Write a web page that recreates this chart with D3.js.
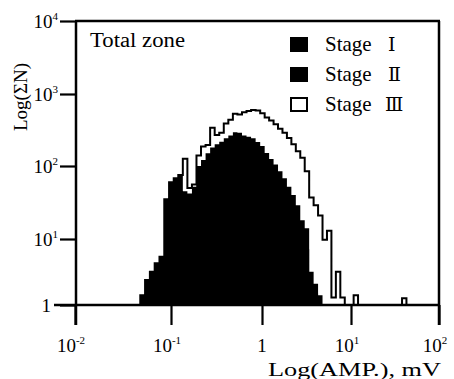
<!DOCTYPE html>
<html><head><meta charset="utf-8">
<script src="https://cdn.jsdelivr.net/npm/d3@7"></script>
<style>
body{margin:0;background:#fff}
svg text{font-family:"Liberation Serif","Times New Roman",serif;fill:#000}
</style>
</head><body>
<svg id="chart" width="454" height="379"></svg>
<script>
// bin edges, log10(mV)
const binEdgesLog = [-1.32,-1.27,-1.22,-1.17,-1.12,-1.07,-1.02,-0.97,-0.92,-0.87,-0.82,-0.77,-0.72,-0.67,-0.62,-0.57,-0.52,-0.47,-0.42,-0.37,-0.32,-0.27,-0.22,-0.17,-0.12,-0.07,-0.02,0.03,0.08,0.13,0.18,0.23,0.28,0.33,0.38,0.43,0.48,0.53,0.58,0.63,0.68,0.73,0.78,0.83,0.88,0.93,0.98,1.03,1.08,1.13,1.18,1.23,1.28,1.33,1.38,1.43,1.48,1.53,1.58,1.63];
// cumulative counts per bin
const stageI = [1,1.5,2,3,3.5,20,35,40,45,28,26,32,60,75,90,105,118,130,140,155,170,165,150,140,130,115,100,80,65,55,45,35,27,20,15,10,7,2,1.5,1];
const stageII = [1.4,2.4,3.2,4.3,5.4,35,60,68,75,45,42,52,100,121,150,180,200,218,242,265,295,290,265,255,242,215,190,151,125,105,85,68,52,40,29,18,14,3.2,2.1,1.4];
const stageIII = [1.4,2.4,3.2,4.3,5.4,35,60,68,75,126,50,56,140,186,195,340,270,290,390,440,530,520,560,580,600,590,540,470,430,380,330,290,245,200,160,130,85,37,29,21,9.7,13,1.3,3.2,1.3,1,1,1.4,1,1,1,1,1,1,1,1,1,1,1.27];
const xTicks = [0.01,0.1,1,10,100];
const xTickLabels = [["10","-2"],["10","-1"],["1",""],["10","1"],["10","2"]];
const yTicks = [1,10,100,1000,10000];
const yTickLabels = [["1",""],["10","1"],["10","2"],["10","3"],["10","4"]];
const legendNames = ["Stage","Stage","Stage"];
const legendNumerals = ["\u2160","\u2161","\u2162"];

const SERIF = "'Liberation Serif','Times New Roman',serif";
const svg = d3.select("#chart");
const x = d3.scaleLog().domain(xTicks).range([75,171,262,351,439]);
const y = d3.scaleLog().domain(yTicks).range([305,239,166,94,21]);

function pts(vals){
  const p = vals.map((v,i)=>[Math.pow(10,binEdgesLog[i]), v]);
  p.push([Math.pow(10,binEdgesLog[vals.length]), vals[vals.length-1]]);
  return p;
}
const area = d3.area().curve(d3.curveStepAfter).x(d=>x(d[0])).y0(y(1)).y1(d=>y(d[1]));
const line = d3.line().curve(d3.curveStepAfter).x(d=>x(d[0])).y(d=>y(d[1]));

// Stage III (open)
const p3 = pts(stageIII);
svg.append("path").attr("d", area(p3)).attr("fill","#fff");
const p3l = [[p3[0][0],1], ...p3, [p3[p3.length-1][0],1]];
svg.append("path").attr("d", line(p3l)).attr("fill","none").attr("stroke","#000").attr("stroke-width",2);
// Stage II, Stage I (black)
svg.append("path").attr("d", area(pts(stageII))).attr("fill","#000");
svg.append("path").attr("d", area(pts(stageI))).attr("fill","#000");

// axes
const gy = svg.append("g").attr("transform","translate(76,0)")
  .call(d3.axisLeft(y).tickValues(yTicks).tickSize(16).tickSizeOuter(0).tickFormat(""));
const gx = svg.append("g").attr("transform","translate(0,305)")
  .call(d3.axisBottom(x).tickValues(xTicks).tickSize(20).tickSizeOuter(0).tickFormat(""));
[gy,gx].forEach(g=>{g.selectAll("line").attr("stroke","#000").attr("stroke-width",2.2);
  g.select(".domain").attr("stroke","#000").attr("stroke-width",2.5);});
gy.select(".domain").attr("d","M0,"+y(10000)+"V"+(y(1)+20));
gx.select(".domain").attr("d","M"+(x(0.01)-21)+",0H"+x(100));
// top and right frame
svg.append("line").attr("x1",x(0.01)).attr("x2",x(100)+1).attr("y1",y(10000)).attr("y2",y(10000)).attr("stroke","#000").attr("stroke-width",2.5);
svg.append("line").attr("x1",x(100)).attr("x2",x(100)).attr("y1",y(10000)).attr("y2",y(1)+20).attr("stroke","#000").attr("stroke-width",2.5);

function txt(){ return svg.append("text").attr("font-family",SERIF).attr("fill","#000"); }

// y tick labels
yTicks.forEach((t,i)=>{
  const lab = yTickLabels[i];
  const tx = txt().attr("x", lab[1]?58:51).attr("y", y(t)+7).attr("text-anchor","end").attr("font-size",19);
  tx.append("tspan").text(lab[0]);
  if(lab[1]) tx.append("tspan").attr("dy",-8).attr("font-size",11).text(lab[1]);
});
// x tick labels
xTicks.forEach((t,i)=>{
  const lab = xTickLabels[i];
  const tx = txt().attr("x", x(t)-(lab[1]?4:0)).attr("y", 352).attr("text-anchor","middle").attr("font-size",19);
  tx.append("tspan").text(lab[0]);
  if(lab[1]) tx.append("tspan").attr("dy",-8).attr("font-size",11).text(lab[1]);
});
// axis titles
txt().attr("x",268).attr("y",376).attr("textLength",173).attr("lengthAdjust","spacingAndGlyphs")
  .attr("font-size",19).text("Log(AMP.), mV");
txt().attr("transform","translate(27,97) rotate(-90)").attr("text-anchor","middle")
  .attr("font-size",19).text("Log(\u03A3N)");
// annotation
txt().attr("x",90).attr("y",47).attr("textLength",95).attr("lengthAdjust","spacingAndGlyphs")
  .attr("font-size",20).text("Total zone");

// legend
const legY = [37,67,97];
legendNames.forEach((n,i)=>{
  svg.append("rect").attr("x",i==2?291:290).attr("y",legY[i]+(i==2?1:0)).attr("width",i==2?16:18).attr("height",i==2?13:15)
    .attr("fill",i==2?"#fff":"#000").attr("stroke","#000").attr("stroke-width",i==2?2:0);
  const t = txt().attr("x",325).attr("y",legY[i]+14).attr("font-size",21);
  t.append("tspan").text(n);
  t.append("tspan").attr("x", i==2?385:388).attr("font-family","'DejaVu Serif','Liberation Serif',serif").attr("font-size",19).text(legendNumerals[i]);
});
</script>
</body></html>
